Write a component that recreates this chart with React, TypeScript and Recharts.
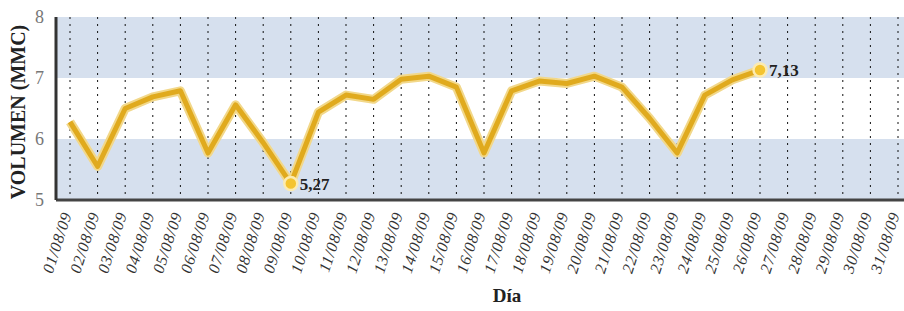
import { LineChart, Line, XAxis, YAxis, CartesianGrid, Label } from "recharts";

const SERIF = "'Liberation Serif', 'Times New Roman', serif";

const days = [
  "01/08/09", "02/08/09", "03/08/09", "04/08/09", "05/08/09", "06/08/09", "07/08/09", "08/08/09",
  "09/08/09", "10/08/09", "11/08/09", "12/08/09", "13/08/09", "14/08/09", "15/08/09", "16/08/09",
  "17/08/09", "18/08/09", "19/08/09", "20/08/09", "21/08/09", "22/08/09", "23/08/09", "24/08/09",
  "25/08/09", "26/08/09", "27/08/09", "28/08/09", "29/08/09", "30/08/09", "31/08/09",
];

const volumen: (number | null)[] = [
  6.28, 5.55, 6.5, 6.69, 6.79, 5.77, 6.56, 5.94, 5.27, 6.44, 6.72, 6.65, 6.98, 7.03, 6.85, 5.77,
  6.79, 6.95, 6.91, 7.03, 6.85, 6.34, 5.77, 6.72, 6.97, 7.13, null, null, null, null, null,
];

// puntos con etiqueta (mínimo y último dato)
const marked = ["09/08/09", "26/08/09"];

const yTicks = [5, 6, 7, 8];

// franjas de fondo, de arriba a abajo: 8-7, 7-6, 6-5
const bandFill = ["#D6E0EE", "transparent", "#D6E0EE"];

const data = days.map((d, i) => ({ day: d, v: volumen[i] }));

const fmt = (v: number) => v.toFixed(2).replace(".", ",");

function XTick({ x, y, payload }: any) {
  return (
    <text
      x={x + 2}
      y={y + 6}
      transform={`rotate(-72 ${x + 2} ${y + 6})`}
      textAnchor="end"
      fontFamily={SERIF}
      fontStyle="italic"
      fontSize={16}
      letterSpacing={0.8}
      fill="#333"
    >
      {payload.value}
    </text>
  );
}

function Dot({ cx, cy, payload }: any) {
  if (!marked.includes(payload.day) || payload.v == null) return <g />;
  return (
    <g>
      <circle cx={cx} cy={cy} r={6.5} fill="#F4C430" stroke="#FCEBB0" strokeWidth={2.5} />
      <text x={cx + 9} y={cy + 6} fontFamily={SERIF} fontWeight="bold" fontSize={17} fill="#222">
        {fmt(payload.v)}
      </text>
    </g>
  );
}

export default function App() {
  return (
    <div style={{ position: "absolute", left: 0, top: 0, width: 904, height: 311, overflow: "hidden", background: "#fff" }}>
      <LineChart width={912} height={311} data={data} margin={{ top: 17, right: 0, left: 0, bottom: 0 }}>
        {/* solo franjas */}
        <CartesianGrid
          vertical={false}
          horizontal={() => <g />}
          horizontalFill={bandFill}
          fillOpacity={1}
          stroke="none"
        />
        {/* solo líneas punteadas verticales, encima de las franjas */}
        <CartesianGrid horizontal={false} stroke="#111" strokeWidth={1} strokeDasharray="2 5" />
        <XAxis
          dataKey="day"
          interval={0}
          height={111}
          padding={{ left: 14, right: 14 }}
          tick={<XTick />}
          tickLine={false}
          axisLine={{ stroke: "#444", strokeWidth: 3 }}
        >
          <Label
            content={() => (
              <text x={507} y={302} textAnchor="middle" fontFamily={SERIF} fontWeight="bold" fontSize={19} fill="#222">
                Día
              </text>
            )}
          />
        </XAxis>
        <YAxis
          domain={[5, 8]}
          ticks={yTicks}
          width={56}
          tickLine={false}
          axisLine={{ stroke: "#333", strokeWidth: 3 }}
          tick={{ fontFamily: SERIF, fontSize: 18, fill: "#777" }}
          tickMargin={6}
        >
          <Label
            content={() => (
              <text
                x={25}
                y={112}
                transform="rotate(-90 25 112)"
                textAnchor="middle"
                fontFamily={SERIF}
                fontWeight="bold"
                fontSize={20}
                fill="#222"
              >
                VOLUMEN (MMC)
              </text>
            )}
          />
        </YAxis>
        <Line
          dataKey="v"
          stroke="#F2D88A"
          strokeWidth={9}
          dot={false}
          activeDot={false}
          strokeLinejoin="round"
          isAnimationActive={false}
          connectNulls={false}
        />
        <Line
          dataKey="v"
          stroke="#E0AA1E"
          strokeWidth={5}
          dot={<Dot />}
          activeDot={false}
          strokeLinejoin="round"
          isAnimationActive={false}
          connectNulls={false}
        />
      </LineChart>
    </div>
  );
}
